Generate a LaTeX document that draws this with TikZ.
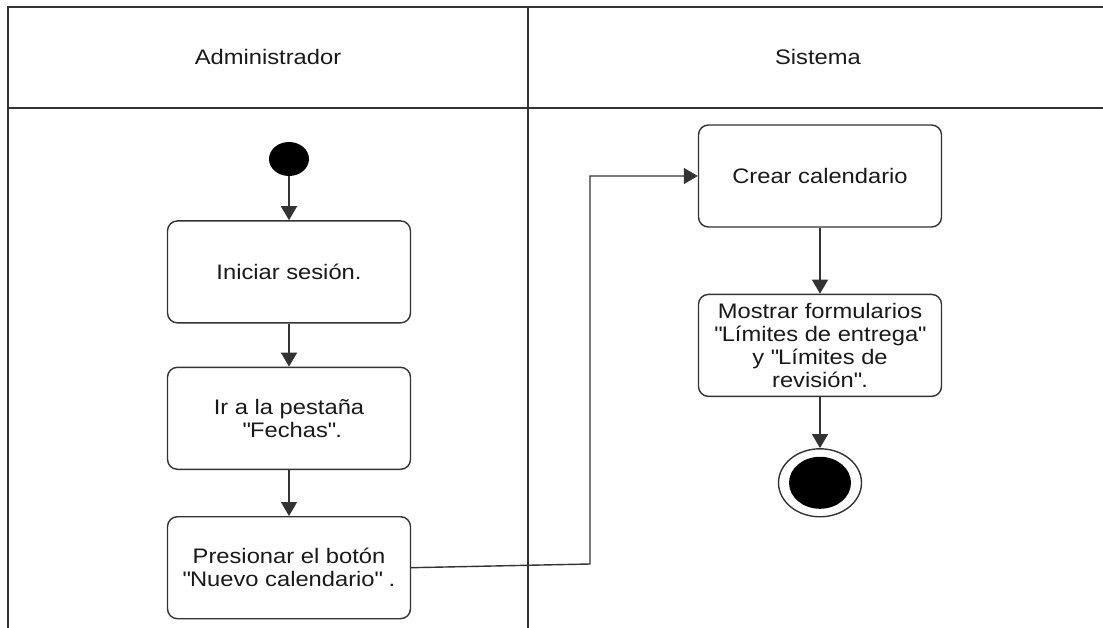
\documentclass[tikz,border=0pt]{standalone}
\usepackage{fontspec}
\setmainfont[FakeStretch=1.13]{Liberation Sans}
\usetikzlibrary{shapes.geometric,arrows.meta,positioning,calc}
\newcommand{\cq}{\textquotedbl}
\tikzset{
    actividad/.style={
        rectangle,                % caja de actividad
        rounded corners=3.5mm,    % esquinas redondeadas
        draw=black!80,            % borde gris oscuro
        line width=1.4pt,
        minimum width=243pt,      % ancho de todas las actividades
        minimum height=102pt,     % alto de todas las actividades
        align=center,
        inner sep=2pt
    },
    inicio/.style={
        ellipse,                  % nodo inicial relleno
        fill=black,
        minimum width=40pt,
        minimum height=34pt,
        inner sep=0pt
    },
    final/.style={
        ellipse,                  % nodo final (anillo exterior)
        draw=black!80,
        line width=1.4pt,
        minimum width=83pt,
        minimum height=68pt,
        inner sep=0pt
    },
    carril/.style={
        line width=1.4pt,
        draw=black!80             % lineas de las calles
    }
}

\begin{document}
\begin{tikzpicture}[
        x=1pt, y=-1pt,
        every node/.style={align=center, text=black!90, font=\fontsize{21}{23}\selectfont},
        flecha/.style={-{Triangle[length=14pt,width=16pt]}, line width=1.4pt, draw=black!80}
    ]
    \useasboundingbox (0,0) rectangle (1103,628);

    % calles
    \draw[carril] (8,628) -- (8,7) -- (1103,7);
    \draw[carril] (8,108) -- (1103,108);
    \draw[carril] (528,7) -- (528,628);
    \node (admin) at (268,57) {Administrador};
    \node (sistema) at (818,57) {Sistema};

    % carril del administrador
    \node[inicio] (ini) at (289,159) {};
    \node[actividad, below=44pt of ini] (sesion) {Iniciar sesión.};
    \node[actividad, below=43pt of sesion] (pestana) {Ir a la pestaña\\ \ \cq Fechas\cq.};
    \node[actividad, below=46pt of pestana] (presionar) {Presionar el botón\\\cq Nuevo calendario\cq\ .};

    % carril del sistema
    \node[actividad] (crear) at (820,176) {Crear calendario};
    \node[actividad, below=66pt of crear] (mostrar) {Mostrar formularios\\\cq Límites de entrega\cq\\y \cq Límites de\\revisión\cq.};
    \node[final, below=51pt of mostrar] (fin) {};
    \node[inicio, minimum width=62pt, minimum height=52pt] (finin) at (fin) {};

    \coordinate (codo) at (590,564);

    \draw[flecha] (ini) -- (sesion);
    \draw[flecha] (sesion) -- (pestana);
    \draw[flecha] (pestana) -- (presionar);
    \draw[flecha] (presionar.east) -- (codo) |- (crear.west);
    \draw[flecha] (crear) -- (mostrar);
    \draw[flecha] (mostrar) -- (fin);
\end{tikzpicture}
\end{document}
